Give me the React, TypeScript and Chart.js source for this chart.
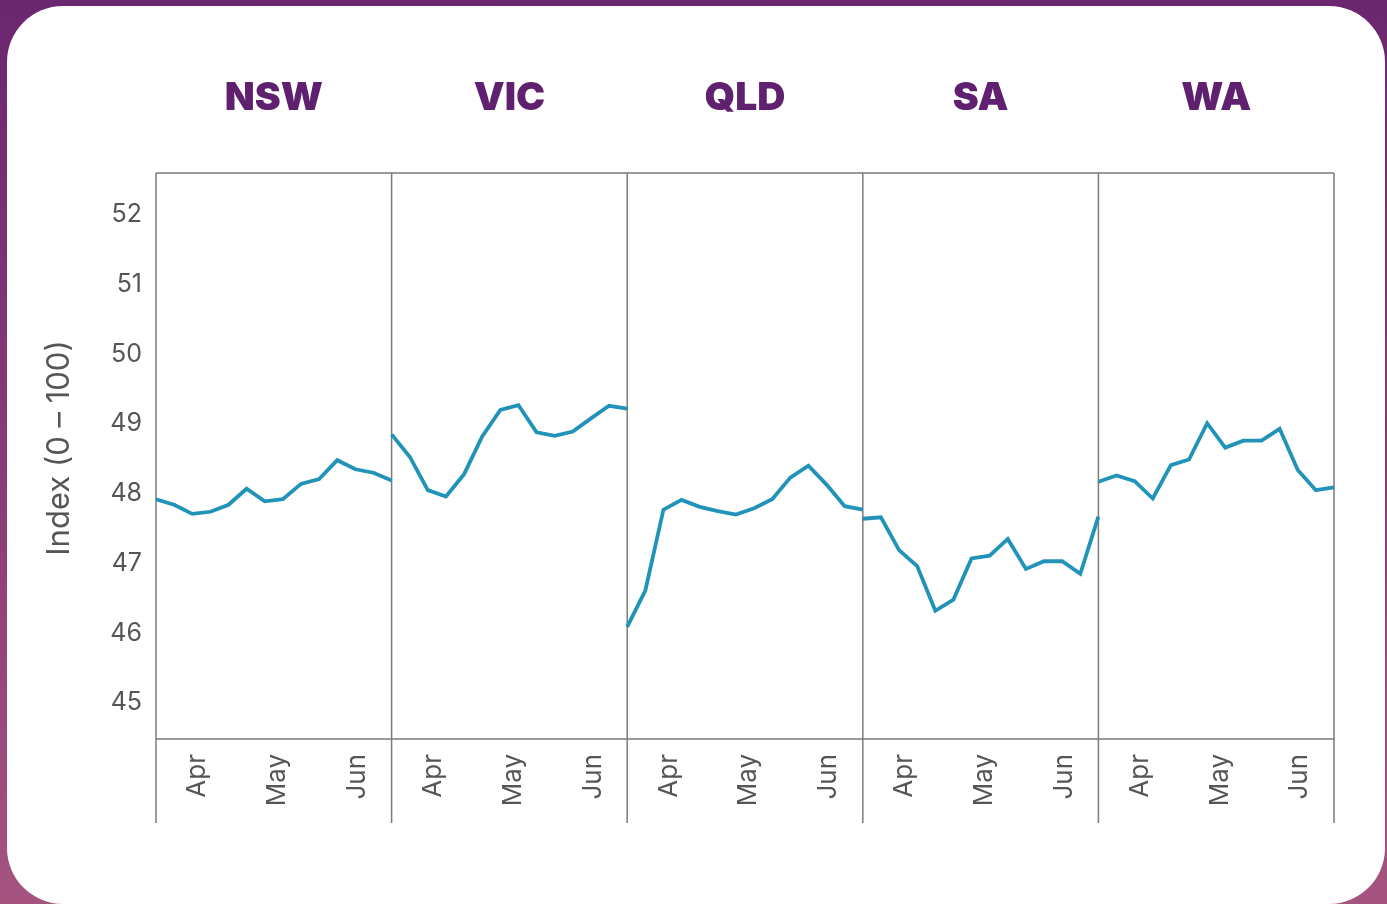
import { useEffect, useRef } from "react";
import { Chart, registerables } from "chart.js";

Chart.register(...registerables);

const regions = ["NSW", "VIC", "QLD", "SA", "WA"];
const monthLabels = ["Apr", "May", "Jun"];
const monthPositions = [2.3, 6.7, 11.1];
const yTicks = [45, 46, 47, 48, 49, 50, 51, 52];
const yTitle = "Index (0 – 100)";

const nsw = [47.92, 47.84, 47.71, 47.74, 47.84, 48.07, 47.89, 47.92, 48.14, 48.21, 48.48, 48.35, 48.3, 48.19];
const vic = [48.85, 48.53, 48.05, 47.96, 48.28, 48.82, 49.2, 49.27, 48.88, 48.83, 48.89, 49.08, 49.26, 49.22];
const qld = [46.09, 46.61, 47.77, 47.91, 47.81, 47.75, 47.7, 47.79, 47.92, 48.23, 48.4, 48.13, 47.82, 47.77];
const sa = [47.64, 47.66, 47.19, 46.96, 46.32, 46.48, 47.07, 47.11, 47.35, 46.92, 47.03, 47.03, 46.85, 47.67];
const wa = [48.17, 48.26, 48.18, 47.93, 48.41, 48.49, 49.01, 48.66, 48.76, 48.76, 48.93, 48.34, 48.05, 48.09];

const seriesList = [nsw, vic, qld, sa, wa];
const SPAN = 13;

const W = 1387;
const H = 904;

const framePlugin = {
  id: "panelFrame",
  beforeDatasetsDraw(chart: any) {
    const { ctx, chartArea, scales } = chart;
    const x = scales.x;
    ctx.save();
    ctx.strokeStyle = "#7b7b7b";
    ctx.lineWidth = 1.5;
    ctx.beginPath();
    ctx.moveTo(chartArea.left, chartArea.top);
    ctx.lineTo(chartArea.right, chartArea.top);
    ctx.moveTo(chartArea.left, chartArea.bottom);
    ctx.lineTo(chartArea.right, chartArea.bottom);
    for (let p = 0; p <= regions.length; p++) {
      const px = x.getPixelForValue(p * SPAN);
      ctx.moveTo(px, chartArea.top);
      ctx.lineTo(px, chartArea.bottom + 84);
    }
    ctx.stroke();
    ctx.restore();
  },
  afterDraw(chart: any) {
    const { ctx, scales } = chart;
    const x = scales.x;
    ctx.save();
    ctx.fillStyle = "#5f206f";
    ctx.font = "900 39px Inter, 'Liberation Sans', Arial, sans-serif";
    ctx.textAlign = "center";
    ctx.textBaseline = "alphabetic";
    regions.forEach((r, p) => {
      const cx = (x.getPixelForValue(p * SPAN) + x.getPixelForValue((p + 1) * SPAN)) / 2;
      ctx.fillText(r, cx, 110);
    });
    // y axis title
    ctx.fillStyle = "#555555";
    ctx.font = "31px Inter, 'Noto Sans', sans-serif";
    ctx.textAlign = "center";
    ctx.textBaseline = "middle";
    ctx.translate(60, 448);
    ctx.rotate(-Math.PI / 2);
    ctx.fillText(yTitle, 0, 0);
    ctx.restore();
  },
};

export default function App() {
  const canvasRef = useRef<HTMLCanvasElement | null>(null);

  useEffect(() => {
    const canvas = canvasRef.current;
    if (!canvas) return;
    const datasets = seriesList.map((vals, p) => ({
      label: regions[p],
      data: vals.map((v, i) => ({ x: p * SPAN + i, y: v })),
      borderColor: "#2293b8",
      backgroundColor: "#2293b8",
      borderWidth: 3.8,
      pointRadius: 0,
      tension: 0,
      fill: false,
    }));
    const chart = new Chart(canvas, {
      type: "line",
      data: { datasets },
      options: {
        responsive: false,
        animation: false,
        layout: { padding: { top: 173, right: 53, bottom: 0, left: 0 } },
        plugins: { legend: { display: false }, tooltip: { enabled: false }, title: { display: false } },
        scales: {
          x: {
            type: "linear",
            min: 0,
            max: regions.length * SPAN,
            border: { display: false },
            grid: { display: false, drawTicks: false },
            afterBuildTicks: (scale: any) => {
              const t: any[] = [];
              for (let p = 0; p < regions.length; p++) {
                monthPositions.forEach((m) => t.push({ value: p * SPAN + m }));
              }
              scale.ticks = t;
            },
            afterFit: (scale: any) => {
              scale.height = H - 739;
            },
            ticks: {
              autoSkip: false,
              minRotation: 90,
              maxRotation: 90,
              padding: 15,
              color: "#555555",
              font: { family: "Inter, 'Noto Sans', sans-serif", size: 26 },
              callback: (_v: any, i: number) => monthLabels[i % monthLabels.length],
            },
          },
          y: {
            type: "linear",
            min: 44.48,
            max: 52.6,
            border: { display: false },
            grid: { display: false, drawTicks: false },
            afterBuildTicks: (scale: any) => {
              scale.ticks = yTicks.map((v) => ({ value: v }));
            },
            afterFit: (scale: any) => {
              scale.width = 156;
            },
            ticks: {
              padding: 14,
              color: "#555555",
              font: { family: "Inter, 'Noto Sans', sans-serif", size: 25 },
              callback: (v: any) => String(v),
            },
          },
        },
      },
      plugins: [framePlugin],
    } as any);
    return () => chart.destroy();
  }, []);

  return (
    <div style={{ position: "absolute", left: 0, top: 0, width: W, height: H, overflow: "hidden", background: "linear-gradient(to bottom, #6b2670 0%, #8a3c78 55%, #a5537f 100%)" }}>
      <div style={{ position: "absolute", left: 7, top: 6, width: 1378, height: 898, background: "#ffffff", borderRadius: 56 }} />
      <canvas ref={canvasRef} width={W} height={H} style={{ position: "absolute", left: 0, top: 0, width: W, height: H }} />
    </div>
  );
}
